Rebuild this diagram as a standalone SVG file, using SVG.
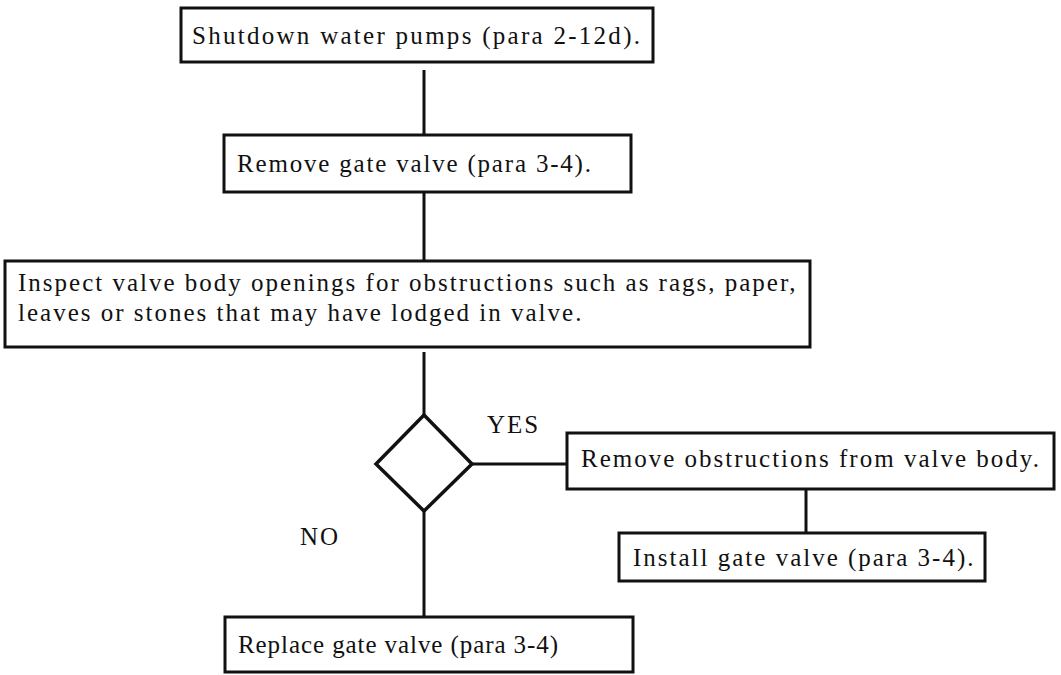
<svg xmlns="http://www.w3.org/2000/svg" width="1061" height="675" viewBox="0 0 1061 675">
<style>
.box{fill:#fff;stroke:#111;stroke-width:3}
.dia{fill:#fff;stroke:#111;stroke-width:3.5}
.t{font-family:"Liberation Serif","Times New Roman",serif;font-size:25px;fill:#111;letter-spacing:2px}
.c{stroke:#111;stroke-width:3;fill:none}
</style>
<rect width="1061" height="675" fill="#fff"/>
<g id="connectors">
<line class="c" x1="424" y1="70" x2="424" y2="135"/>
<line class="c" x1="424" y1="192" x2="424" y2="261"/>
<line class="c" x1="424" y1="352" x2="424" y2="415"/>
<line class="c" x1="472" y1="464" x2="567" y2="464"/>
<line class="c" x1="806" y1="489" x2="806" y2="533"/>
<line class="c" x1="424" y1="510" x2="424" y2="617"/>
</g>
<g id="n1">
<rect class="box" x="181" y="8" width="472" height="54"/>
<text class="t" x="192" y="44" textLength="450">Shutdown water pumps (para 2-12d).</text>
</g>
<g id="n2">
<rect class="box" x="224" y="135" width="407" height="57"/>
<text class="t" x="237" y="172" textLength="356">Remove gate valve (para 3-4).</text>
</g>
<g id="n3">
<rect class="box" x="5" y="261" width="805" height="86"/>
<text class="t" x="18" y="291">Inspect valve body openings for obstructions such as rags, paper,</text>
<text class="t" x="18" y="321">leaves or stones that may have lodged in valve.</text>
</g>
<g id="n4">
<polygon class="dia" points="424,415 472,464 424,511 376,464"/>
</g>
<g id="lbl-yes"><text class="t" x="487" y="433">YES</text></g>
<g id="lbl-no"><text class="t" x="300" y="545">NO</text></g>
<g id="n5">
<rect class="box" x="567" y="433" width="487" height="56"/>
<text class="t" x="581" y="467">Remove obstructions from valve body.</text>
</g>
<g id="n6">
<rect class="box" x="619" y="533" width="366" height="48"/>
<text class="t" x="633" y="566">Install gate valve (para 3-4).</text>
</g>
<g id="n7">
<rect class="box" x="225" y="617" width="408" height="55"/>
<text class="t" x="238" y="653" textLength="322">Replace gate valve (para 3-4)</text>
</g>
</svg>
